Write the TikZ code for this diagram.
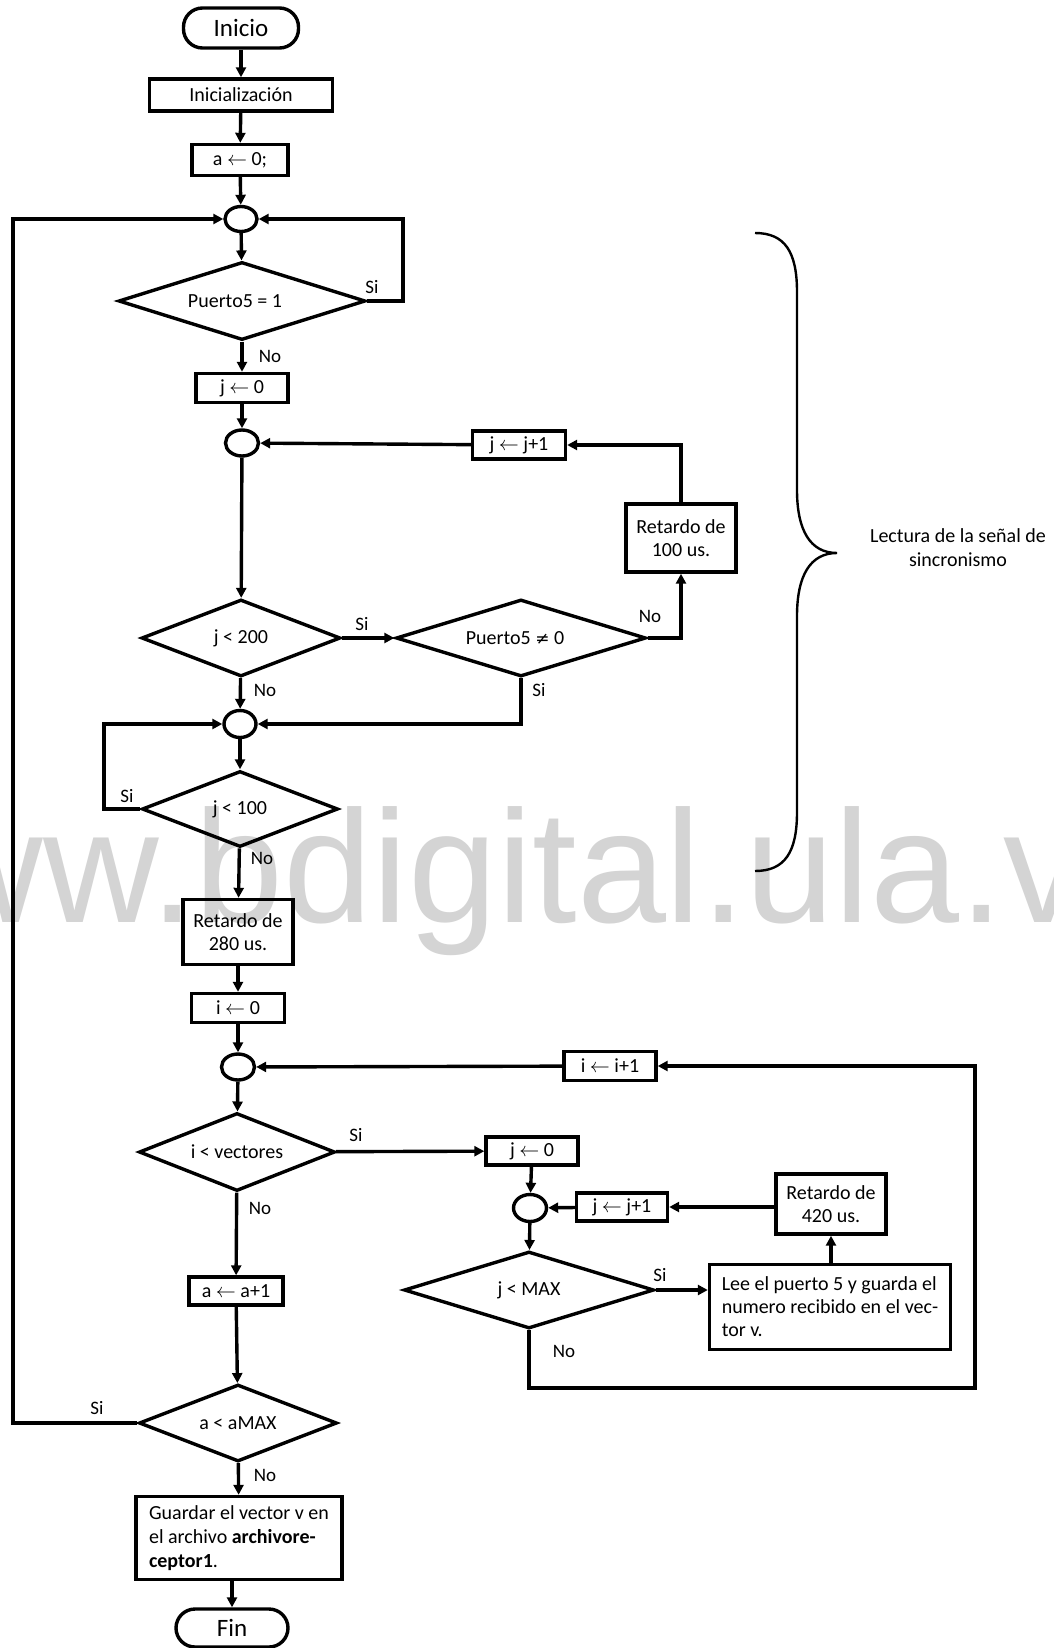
\documentclass[tikz,border=0pt]{standalone}
\usepackage{fontspec}
\setmainfont{Carlito}
\newfontfamily\symfont{DejaVu Sans}
\newfontfamily\wmfont{Liberation Sans}
\usetikzlibrary{shapes.geometric,arrows.meta}

% assignment arrow
\newcommand{\asg}{{\fontsize{10}{10}\selectfont$\leftarrow$}}

\begin{document}
\begin{tikzpicture}[x=0.5pt,y=-0.5pt,
  every node/.style={font=\fontsize{10}{11.5}\selectfont},
  ln/.style={line width=1.7pt},
  arr/.style={ln,-{Triangle[length=5pt,width=5pt]}},
  proc/.style n args={2}{draw,ln,rectangle,inner sep=0pt,minimum width=#1,minimum height=#2},
  term/.style n args={2}{draw,ln,rectangle,rounded corners=9.5pt,inner sep=0pt,minimum width=#1,minimum height=#2,font=\fontsize{12.5}{14}\selectfont},
  dec/.style n args={2}{draw,ln,diamond,aspect=2.5,inner sep=0pt,minimum width=#1,minimum height=#2},
  conn/.style n args={2}{draw,ln,ellipse,inner sep=0pt,minimum width=#1,minimum height=#2},
  lbl/.style={inner sep=0pt,font=\fontsize{9.5}{11}\selectfont},
]
\useasboundingbox (0,0) rectangle (1054,1648);
\clip (0,0) rectangle (1054,1648);
\fill[white] (0,0) rectangle (1054,1648);

% watermark
\node[anchor=base west,inner sep=0pt,text=black!17,
      font=\wmfont\fontsize{80}{80}\selectfont] (wm) at (-188,922) {www.bdigital.ula.ve};

% ---- synchronism reading ----
\node[term={57.5pt}{20pt}] (start) at (241,28) {Inicio};
\node[proc={91.5pt}{16pt}] (init) at (241,95) {Inicialización};
\node[proc={48pt}{15.5pt}] (a0) at (240,160) {a \asg{} 0;};
\node[conn={16pt}{12.5pt}] (c1) at (241,219) {};
\node[dec={123.5pt}{39pt}] (d1) at (242,301) {\hspace*{-7pt}Puerto5 = 1};
\node[proc={46pt}{14.5pt}] (j0) at (242,388) {j \asg{} 0};
\node[conn={16.5pt}{13pt}] (c2) at (242,443) {};
\node[proc={46.5pt}{14pt}] (jinc) at (519,445) {j \asg{} j+1};
\node[proc={55pt}{34pt},align=center] (ret100) at (681,538) {Retardo de\\100 us.};
\node[dec={99.5pt}{38.5pt}] (d2) at (241,638) {j < 200};
\node[dec={125pt}{38.5pt}] (d3) at (521,638) {\hspace*{-6pt}Puerto5 {\symfont\fontsize{8.5}{8.5}\selectfont ≠} 0};
\node[conn={16pt}{13.5pt}] (c3) at (240,724) {};
\node[dec={98pt}{38pt}] (d4) at (240,809) {j < 100};
\node[proc={55pt}{32.5pt},align=center] (ret280) at (238,932) {Retardo de\\280 us.};

% ---- vector reading ----
\node[proc={46.5pt}{14.5pt}] (i0) at (238,1008) {i \asg{} 0};
\node[conn={16.5pt}{13pt}] (c4) at (238,1067) {};
\node[proc={46pt}{14.5pt}] (iinc) at (610,1066) {i \asg{} i+1};
\node[dec={98pt}{39pt}] (d5) at (237,1152) {i < vectores};
\node[proc={46pt}{14pt}] (j0b) at (532,1151) {j \asg{} 0};
\node[conn={16.5pt}{13.5pt}] (c5) at (530,1208) {};
\node[proc={45.5pt}{14pt}] (jincb) at (622,1207) {j \asg{} j+1};
\node[proc={55pt}{30pt},align=center] (ret420) at (831,1204) {Retardo de\\420 us.};
\node[dec={125pt}{38.5pt}] (d6) at (529,1290) {j < MAX};
\node[proc={120.5pt}{42.5pt},align=left] (lee) at (830,1307)
  {Lee el puerto 5 y guarda el\\numero recibido en el vec-\\tor v.};
\node[proc={47pt}{14pt}] (ainc) at (236,1291) {a \asg{} a+1};
\node[dec={99pt}{38.5pt}] (d7) at (238,1423) {a < aMAX};
\node[proc={103pt}{41.5pt},align=left,font=\fontsize{10}{12}\selectfont] (save) at (239,1538)
  {Guardar el vector v en\\el archivo \textbf{archivore-}\\\textbf{ceptor1}.};
\node[term={56pt}{19pt}] (fin) at (232,1628) {Fin};

% corner points of the loops
\coordinate (r1) at (403,301);
\coordinate (l2) at (104,809);
\coordinate (b1) at (975,1388);
\coordinate (b2) at (13,1423);

% ---- connectors ----
\draw[arr] (start) -- (init);
\draw[arr] (init) -- (a0);
\draw[arr] (a0) -- (c1);
\draw[arr] (c1) -- (d1);
\draw[arr] (d1.east) -- (r1) |- (c1.east);
\draw[arr] (d1) -- (j0);
\draw[arr] (j0) -- (c2);
\draw[arr] (c2) -- (d2);
\draw[arr] (d2) -- (d3);
\draw[arr] (d3.east) -| (ret100.south);
\draw[arr] (ret100.north) |- (jinc.east);
\draw[arr] (jinc) -- (c2);
\draw[arr] (d2) -- (c3);
\draw[arr] (d3.south) |- (c3.east);
\draw[arr] (d4.west) -- (l2) |- (c3.west);
\draw[arr] (c3) -- (d4);
\draw[arr] (d4) -- (ret280);
\draw[arr] (ret280) -- (i0);
\draw[arr] (i0) -- (c4);
\draw[arr] (c4) -- (d5);
\draw[arr] (d5) -- (j0b);
\draw[arr] (j0b) -- (c5);
\draw[arr] (c5) -- (d6);
\draw[arr] (d6.east) -- (d6.east -| lee.west);
\draw[arr] (lee.north -| ret420) -- (ret420.south);
\draw[arr] (jincb.east -| ret420.west) -- (jincb.east);
\draw[arr] (jincb) -- (c5);
\draw[arr] (d6.south) |- (b1) |- (iinc.east);
\draw[arr] (iinc) -- (c4);
\draw[arr] (d5) -- (ainc);
\draw[arr] (ainc) -- (d7);
\draw[arr] (d7.west) -- (b2) |- (c1.west);
\draw[arr] (d7) -- (save);
\draw[arr] (save.south -| fin.north) -- (fin.north);

% ---- branch labels ----
\node[lbl] (si1) at (372,287) {Si};
\node[lbl] (no1) at (270,356) {No};
\node[lbl] (si2) at (362,624) {Si};
\node[lbl] (no2) at (650,616) {No};
\node[lbl] (si3) at (539,690) {Si};
\node[lbl] (no3) at (265,690) {No};
\node[lbl] (si4) at (127,796) {Si};
\node[lbl] (no4) at (262,858) {No};
\node[lbl] (si5) at (356,1135) {Si};
\node[lbl] (no5) at (260,1208) {No};
\node[lbl] (si6) at (660,1275) {Si};
\node[lbl] (no6) at (564,1351) {No};
\node[lbl] (si7) at (97,1408) {Si};
\node[lbl] (no7) at (265,1475) {No};

% ---- brace grouping the synchronism stage ----
\draw[line width=1.2pt]
  (755,233) .. controls (785,233) and (797,252) .. (797,292)
  -- (797,490) .. controls (797,530) and (810,553) .. (837,553)
  .. controls (810,553) and (797,576) .. (797,616)
  -- (797,812) .. controls (797,852) and (785,871) .. (755,871);
\node[align=center,font=\fontsize{10}{12}\selectfont] (bracelbl) at (958,548)
  {Lectura de la señal de\\sincronismo};
\end{tikzpicture}
\end{document}
